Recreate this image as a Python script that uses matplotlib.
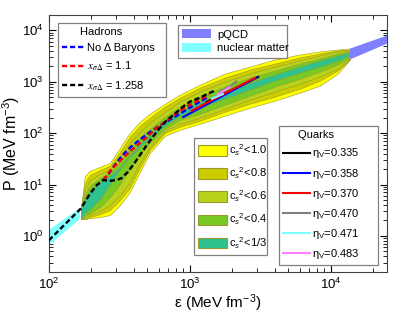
import matplotlib
matplotlib.use("Agg")
import matplotlib.pyplot as plt
from matplotlib.patches import Patch
from matplotlib.lines import Line2D

plt.rcParams['font.family'] = ['Liberation Sans', 'DejaVu Sans']
plt.rcParams['mathtext.fontset'] = 'custom'
plt.rcParams['mathtext.rm'] = 'Liberation Sans'
plt.rcParams['mathtext.it'] = 'Liberation Sans:italic'

# ---------------- data ----------------
# common energy-density grid for the c_s^2 bands (MeV fm^-3)
eps_grid = [169, 180, 195, 230, 271, 319, 375, 442, 520, 665, 850, 1178,
            1771, 2665, 4007, 6028, 8356, 11210, 13640]
# band boundaries (pressure, MeV fm^-3)
cs10_up = [3.48, 14.7, 18.4, 22.0, 26.3, 51.6, 101, 166, 238, 373, 560, 878,
           1440, 1972, 2702, 3383, 3871, 4236, 4432]
cs10_lo = [2.12, 2.12, 2.22, 2.32, 2.54, 3.98, 7.14, 17.5, 41.2, 88.6, 116, 152,
           218, 312, 427, 612, 839, 1440, 2702]
cs08_up = [3.48, 10.7, 15.3, 19.2, 23.0, 43.2, 84.7, 139, 199, 326, 489, 767,
           1202, 1723, 2257, 2956, 3540, 4050, 4236]
cs08_lo = [2.12, 2.12, 2.32, 2.65, 3.18, 4.98, 8.54, 21.0, 47.2, 101, 133, 174,
           261, 373, 512, 733, 1051, 1648, 2702]
cs06_up = [3.48, 7.81, 12.2, 16.0, 19.2, 34.4, 64.6, 106, 159, 261, 409, 641,
           1005, 1440, 1972, 2582, 3236, 3871, 4050]
cs06_lo = [2.12, 2.22, 2.54, 3.04, 3.98, 6.24, 11.2, 26.3, 54.0, 111, 152, 199,
           298, 447, 641, 918, 1258, 1803, 2827]
cs04_up = [3.48, 6.24, 9.35, 13.4, 16.8, 27.5, 49.4, 81.0, 121, 208, 326, 512,
           802, 1202, 1648, 2257, 2827, 3540, 3871]
cs04_lo = [2.12, 2.43, 2.77, 3.64, 5.70, 10.2, 20.1, 37.7, 64.6, 121, 182, 238,
           357, 535, 802, 1149, 1575, 2158, 2956]
cs13_up = [3.48, 5.21, 7.47, 11.2, 14.7, 22.0, 37.7, 61.8, 92.7, 159, 261, 409,
           641, 960, 1376, 1972, 2582, 3236, 3702]
cs13_lo = [2.12, 2.77, 3.32, 5.21, 10.2, 20.1, 34.4, 54.0, 81.0, 139, 218, 312,
           468, 701, 1051, 1506, 1972, 2582, 3236]

# nuclear matter and pQCD bands
nm_eps = [100, 166]
nm_lo = [0.66, 2.12]
nm_up = [1.30, 3.48]
pq_eps = [13640, 25000]
pq_lo = [2700, 5500]
pq_up = [4400, 7900]

# hadronic EoS (dashed)
had_noD_eps = [243, 265, 290, 329, 388, 480, 593, 722, 850, 1000, 1178, 1320]
had_noD_P = [12.2, 16.0, 23.0, 36.0, 56.5, 88.6, 133, 182, 238, 312, 409, 489]
had_11_eps = [243, 275, 324, 388, 480, 593, 698, 850, 1033, 1178, 1364]
had_11_P = [12.2, 19.2, 30.1, 47.2, 77.4, 133, 182, 273, 373, 447, 560]
had_1258_eps = [100, 169, 195, 219, 243, 271, 304, 329, 363, 401, 449, 496, 547,
                613, 687, 783, 892, 1000, 1178, 1342, 1504]
had_1258_P = [0.82, 3.43, 6.52, 9.78, 12.2, 11.8, 12.2, 13.4, 17.5, 25.1, 39.4,
              59.1, 84.7, 127, 178, 238, 326, 409, 489, 586, 670]

# quark EoS (solid)
quark_labels = ['0.335', '0.358', '0.370', '0.470', '0.471', '0.483']
quark_colors = ['#000000', '#0000ff', '#ff0000', '#808080', '#80ffff', '#ff80ff']
quark_eps = [[1313, 2000, 3050], [896, 1600, 2970], [1028, 1700, 2890],
             [1632, 1900, 2137], [1432, 1714], [1567, 1922]]
quark_P = [[403, 700, 1240], [205, 480, 1200], [273, 560, 1186],
           [632, 800, 1005], [468, 573], [560, 784]]

band_colors = ['#ffff00', '#cccc00', '#b8d31c', '#77c923', '#2ec28e']
band_labels = ['1.0', '0.8', '0.6', '0.4', '1/3']
bands = [(cs10_lo, cs10_up), (cs08_lo, cs08_up), (cs06_lo, cs06_up),
         (cs04_lo, cs04_up), (cs13_lo, cs13_up)]

# ---------------- figure ----------------
fig = plt.figure(figsize=(4.07, 3.15), dpi=100)
ax = fig.add_axes([0.120, 0.137, 0.831, 0.816])
ax.set_xscale('log')
ax.set_yscale('log')
ax.set_xlim(100, 25000)
ax.set_ylim(0.2, 20000)

for (lo, up), col in zip(bands, band_colors):
    ax.fill_between(eps_grid, lo, up, facecolor=col, edgecolor='#9a9a30',
                    linewidth=0.4, zorder=2)
ax.fill_between(nm_eps, nm_lo, nm_up, facecolor='#80ffff', edgecolor='none', zorder=2)
ax.fill_between(pq_eps, pq_lo, pq_up, facecolor='#8080ff', edgecolor='none', zorder=2)

for e, p, c in zip(quark_eps, quark_P, quark_colors):
    ax.plot(e, p, color=c, lw=1.5, zorder=4)

dash = (2.2, 1.2)
ax.plot(had_noD_eps, had_noD_P, color='#0000ff', lw=1.7, dashes=dash, zorder=5)
ax.plot(had_11_eps, had_11_P, color='#ff0000', lw=1.7, dashes=dash, zorder=5)
ax.plot(had_1258_eps, had_1258_P, color='#000000', lw=1.7, dashes=dash, zorder=6)

ax.set_xlabel('ε (MeV fm$^{-3}$)', fontsize=11, labelpad=0)
ax.set_ylabel('P (MeV fm$^{-3}$)', fontsize=11.5, labelpad=0)
ax.tick_params(which='both', direction='in', top=True, right=True, labelsize=9.5)
ax.tick_params(which='major', length=5)
ax.tick_params(which='minor', length=3)
for s in ax.spines.values():
    s.set_color('#404040')

leg_kw = dict(loc='upper left', fancybox=False, framealpha=1, edgecolor='#808080',
              borderaxespad=0, fontsize=8, mode='expand')

# Hadrons legend
h_handles = [Line2D([], [], color='#0000ff', lw=1.7, dashes=dash),
             Line2D([], [], color='#ff0000', lw=1.7, dashes=dash),
             Line2D([], [], color='#000000', lw=1.7, dashes=dash)]
h_labels = ['No Δ Baryons', '$x_{σΔ}$ = 1.1', '$x_{σΔ}$ = 1.258']
leg1 = ax.legend(h_handles, h_labels, title='Hadrons       ',
                 bbox_to_anchor=(0.027, 0.0, 0.320, 0.969),
                 handlelength=2.0, handletextpad=0.2, labelspacing=0.55, **leg_kw)
leg1.get_frame().set_linewidth(0.9)
for t in leg1.get_texts()[1:]:
    t.set_math_fontfamily('stix')
leg1.get_title().set_fontsize(8)
ax.add_artist(leg1)

# pQCD / nuclear matter legend
p_handles = [Patch(facecolor='#8080ff'), Patch(facecolor='#80ffff')]
leg2 = ax.legend(p_handles, ['pQCD', 'nuclear matter'],
                 bbox_to_anchor=(0.382, 0.0, 0.322, 0.961),
                 handlelength=2.6, handleheight=0.9, handletextpad=0.5, labelspacing=0.3, **leg_kw)
leg2.get_frame().set_linewidth(0.9)
ax.add_artist(leg2)

# c_s^2 legend
c_handles = [Patch(facecolor=c, edgecolor='#9a9a30', linewidth=0.8) for c in band_colors]
c_labels = ['c$_s$$^2$<' + l for l in band_labels]
leg3 = ax.legend(c_handles, c_labels, bbox_to_anchor=(0.429, 0.0, 0.216, 0.521),
                 handlelength=2.6, handleheight=1.1, handletextpad=0.2, labelspacing=0.68, **leg_kw)
leg3.get_frame().set_linewidth(0.9)
ax.add_artist(leg3)

# Quarks legend
q_handles = [Line2D([], [], color=c, lw=1.5) for c in quark_colors]
q_labels = ['η$_\\mathregular{V}$=' + l for l in quark_labels]
leg4 = ax.legend(q_handles, q_labels, title='Quarks        ',
                 bbox_to_anchor=(0.680, 0.0, 0.293, 0.568),
                 handlelength=2.4, handletextpad=0.2, labelspacing=0.55, **leg_kw)
leg4.get_frame().set_linewidth(0.9)
leg4.get_title().set_fontsize(8)

fig.savefig('out.png', dpi=100)
